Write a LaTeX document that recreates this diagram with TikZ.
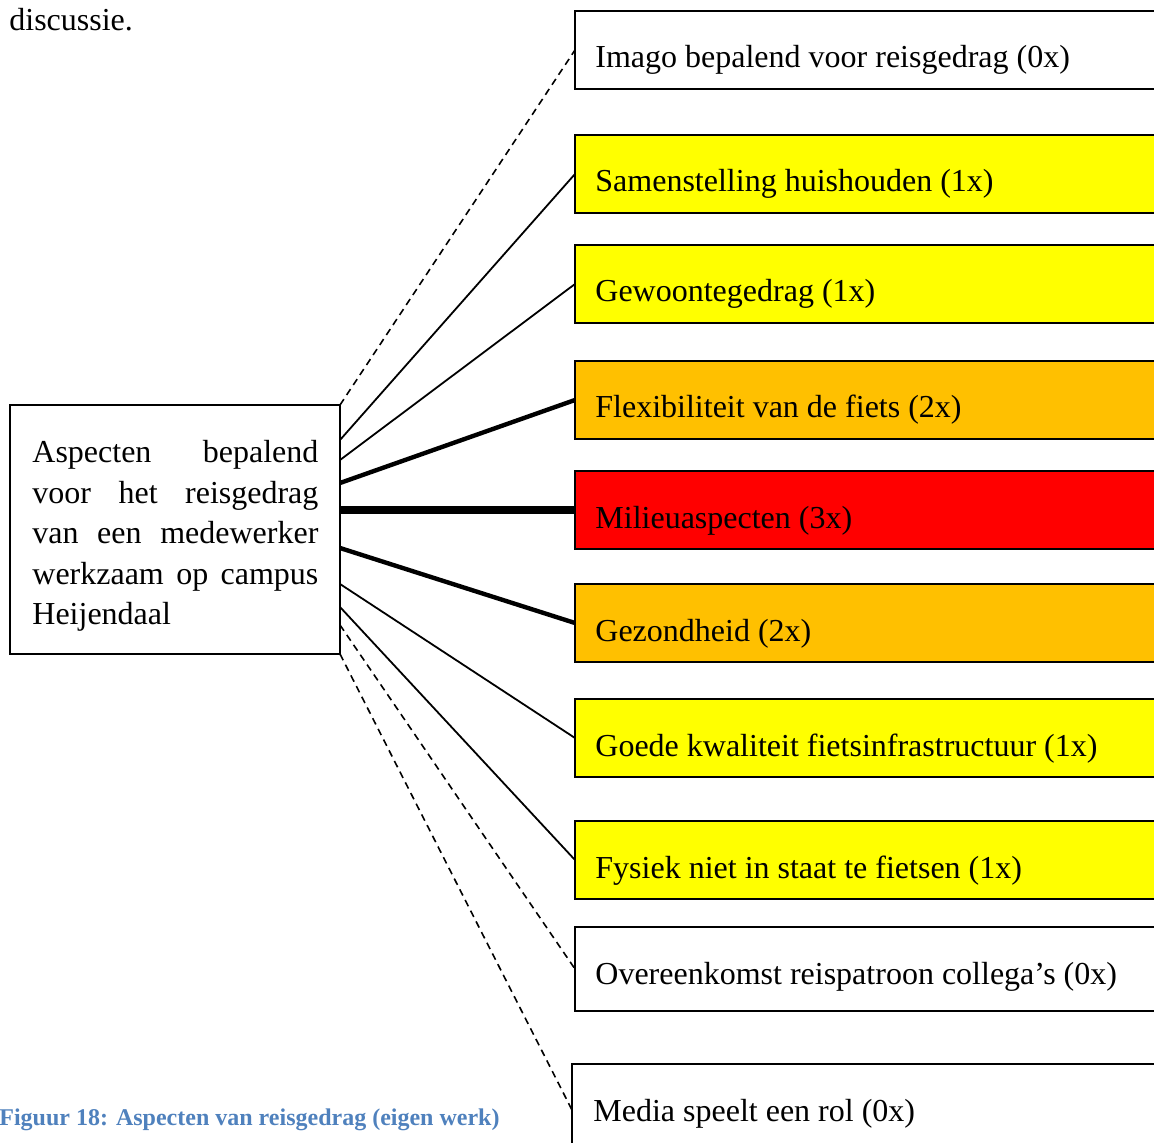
\documentclass[tikz,border=0pt]{standalone}
\usepackage{fontspec}
\setmainfont{Liberation Serif}
\usetikzlibrary{calc}
\definecolor{boxyellow}{HTML}{FFFF00}
\definecolor{boxorange}{HTML}{FFC000}
\definecolor{boxred}{HTML}{FF0000}
\definecolor{capblue}{HTML}{4F81BD}

\begin{document}
\begin{tikzpicture}[x=0.5pt,y=-0.5pt,
  bodyfont/.style={font=\fontsize{16}{20.25}\selectfont},
  aspect/.style={draw=black, line width=1pt, minimum width=297.5pt,
    minimum height=#1*0.5pt, anchor=north west, inner sep=0pt, outer sep=0pt},
  aspect/.default=78,
  lbl/.style={bodyfont, anchor=base west, inner sep=0pt},
  conn/.style={line width=0.9pt},
  conntwo/.style={line width=2.2pt},
  connthree/.style={line width=4pt},
  connzero/.style={line width=0.8pt, dash pattern=on 3.5pt off 2.5pt}
]
\useasboundingbox (0,0) rectangle (1154,1143);
\clip (0,0) rectangle (1154,1143);

% running text and caption
\node[lbl] (prev) at (9,31) {discussie.};
\node[anchor=base west, inner sep=0pt, text=capblue,
      font=\fontsize{12}{14}\selectfont\bfseries] (cap) at (-1,1125)
  {Figuur 18: Aspecten van reisgedrag (eigen werk)};

% central box
\node[draw=black, line width=0.75pt, minimum width=165pt, minimum height=124.5pt,
      anchor=north west, inner sep=0pt, outer sep=0pt] (main) at (10,405) {};
\node[bodyfont, anchor=north west, inner sep=0pt, align=left] (maintext) at (32,440)
  {\makebox[143pt][s]{Aspecten bepalend}\\
   \makebox[143pt][s]{voor het reisgedrag}\\
   \makebox[143pt][s]{van een medewerker}\\
   \makebox[143pt][s]{werkzaam op campus}\\
   Heijendaal};

% aspect boxes
\node[aspect] (b1) at (575,11) {};
\node[lbl] (t1) at ($(b1.north west)+(20,57)$) {Imago bepalend voor reisgedrag (0x)};
\node[aspect, fill=boxyellow] (b2) at (575,135) {};
\node[lbl] (t2) at ($(b2.north west)+(20,57)$) {Samenstelling huishouden (1x)};
\node[aspect, fill=boxyellow] (b3) at (575,245) {};
\node[lbl] (t3) at ($(b3.north west)+(20,57)$) {Gewoontegedrag (1x)};
\node[aspect, fill=boxorange] (b4) at (575,361) {};
\node[lbl] (t4) at ($(b4.north west)+(20,57)$) {Flexibiliteit van de fiets (2x)};
\node[aspect, fill=boxred] (b5) at (575,471) {};
\node[lbl] (t5) at ($(b5.north west)+(20,57)$) {Milieuaspecten (3x)};
\node[aspect, fill=boxorange] (b6) at (575,584) {};
\node[lbl] (t6) at ($(b6.north west)+(20,57)$) {Gezondheid (2x)};
\node[aspect, fill=boxyellow] (b7) at (575,699) {};
\node[lbl] (t7) at ($(b7.north west)+(20,57)$) {Goede kwaliteit fietsinfrastructuur (1x)};
\node[aspect, fill=boxyellow] (b8) at (575,821) {};
\node[lbl] (t8) at ($(b8.north west)+(20,57)$) {Fysiek niet in staat te fietsen (1x)};
\node[aspect=84] (b9) at (575,927) {};
\node[lbl] (t9) at ($(b9.north west)+(20,57)$) {Overeenkomst reispatroon collega’s (0x)};
\node[aspect=92] (b10) at (572,1064) {};
\node[lbl] (t10) at ($(b10.north west)+(21,57)$) {Media speelt een rol (0x)};

% connectors, weighted by how often the aspect was named
\draw[connzero]  ($(main.north east)+(0,0)$)   -- (b1.west);
\draw[conn]      ($(main.north east)+(0,35)$)  -- (b2.west);
\draw[conn]      ($(main.north east)+(0,55)$)  -- (b3.west);
\draw[conntwo]   ($(main.north east)+(0,78)$)  -- (b4.west);
\draw[connthree] ($(main.north east)+(0,105)$) -- (b5.west);
\draw[conntwo]   ($(main.north east)+(0,143)$) -- (b6.west);
\draw[conn]      ($(main.north east)+(0,179)$) -- (b7.west);
\draw[conn]      ($(main.north east)+(0,202)$) -- (b8.west);
\draw[connzero]  ($(main.north east)+(0,220)$) -- (b9.west);
\draw[connzero]  ($(main.north east)+(0,249)$) -- (b10.west);
\end{tikzpicture}
\end{document}
